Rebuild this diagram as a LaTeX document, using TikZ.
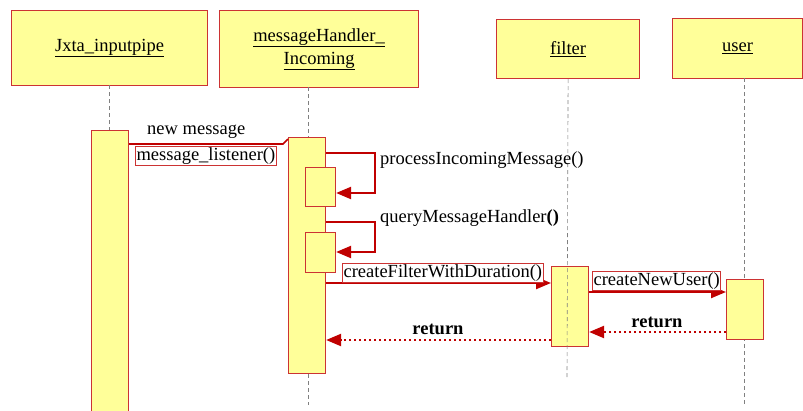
\documentclass[tikz,border=0pt]{standalone}
\usepackage{fontspec}
\setmainfont{Liberation Serif}
\usetikzlibrary{arrows.meta,positioning}
\definecolor{boxred}{RGB}{204,51,51}
\definecolor{arrred}{RGB}{192,0,0}
\definecolor{pale}{RGB}{255,255,153}
\tikzset{
	head/.style={draw=boxred,fill=pale,line width=1.2pt,inner sep=0pt,anchor=north west,align=center,font=\fontsize{18.5}{21}\selectfont},
	bar/.style={draw=boxred,fill=pale,line width=1.1pt,inner sep=0pt,anchor=north west},
	life/.style={draw=gray,line width=0.6pt,dash pattern=on 4pt off 3pt},
	msg/.style={draw=arrred,line width=2.2pt,-{Triangle[length=15pt,width=12pt]}},
	ret/.style={draw=arrred,line width=2.2pt,dash pattern=on 2.2pt off 2.8pt,-{Triangle[length=15pt,width=12pt]}},
	lbl/.style={font=\fontsize{18.5}{21}\selectfont,inner sep=1pt},
	lblbox/.style={lbl,draw=boxred,fill=white,line width=1.1pt}
}
\begin{document}
\begin{tikzpicture}[x=1pt,y=-1pt]
	\useasboundingbox (0,0) rectangle (803,410);
	\node[head,minimum width=196pt,minimum height=75pt] (jxta) at (11,10) {\underline{Jxta\_inputpipe}};
	\node[head,minimum width=199pt,minimum height=77pt] (mh) at (219,10) {\underline{messageHandler\_}\\[2pt]\underline{Incoming}};
	\node[head,minimum width=143pt,minimum height=59pt] (filter) at (496,19) {\underline{filter}};
	\node[head,minimum width=130pt,minimum height=60pt] (user) at (672,18) {\underline{user}};
	\draw[life] (109,85) -- (109,130);
	\draw[life] (308,87) -- (308,405);
	\draw[life] (744,78) -- (744,405);
	\node[bar,minimum width=37pt,minimum height=282pt] (jbar) at (91,130) {};
	\node[bar,minimum width=37pt,minimum height=236pt] (mhbar) at (288,137) {};
	\node[bar,minimum width=30pt,minimum height=39pt] (proc) at (305,167) {};
	\node[bar,minimum width=30pt,minimum height=40pt] (query) at (305,232) {};
	\node[bar,minimum width=37pt,minimum height=80pt] (fbar) at (551,266) {};
	\node[bar,minimum width=37pt,minimum height=60pt] (ubar) at (726,279) {};
	\draw[life] (filter.south) -- (567,378);
	\draw[arrred,line width=1.6pt] (jbar.east |- 0,144) -- (283,144) -- (mhbar.west |- 0,139);
	\node[lbl,anchor=west] (newmsg) at (146,132) {new message};
	\node[lblbox,anchor=north west] (listen) at (135,146) {message\_listener()};
	\draw[msg] (mhbar.east |- 0,153) -| (375,193) -- (proc.east |- 0,193);
	\node[lbl,anchor=west] (proclbl) at (379,160) {processIncomingMessage()};
	\draw[msg] (mhbar.east |- 0,222) -| (375,252) -- (query.east |- 0,252);
	\node[lbl,anchor=west] (querylbl) at (379,218) {queryMessageHandler\textbf{()}};
	\draw[msg] (mhbar.east |- 0,283) -- (fbar.west |- 0,283);
	\node[lblbox,anchor=south west] (cfd) at (342,283) {createFilterWithDuration()};
	\draw[msg] (fbar.east |- 0,292) -- (ubar.west |- 0,292);
	\node[lblbox,anchor=south west] (cnu) at (592,291) {createNewUser()};
	\draw[ret] (ubar.west |- 0,332) -- (fbar.east |- 0,332);
	\node[lbl,font=\fontsize{18.5}{21}\selectfont\bfseries] (ret1) at (657,322) {return};
	\draw[ret] (fbar.west |- 0,340) -- (mhbar.east |- 0,340);
	\node[lbl,font=\fontsize{18.5}{21}\selectfont\bfseries] (ret2) at (438,329) {return};
\end{tikzpicture}
\end{document}
